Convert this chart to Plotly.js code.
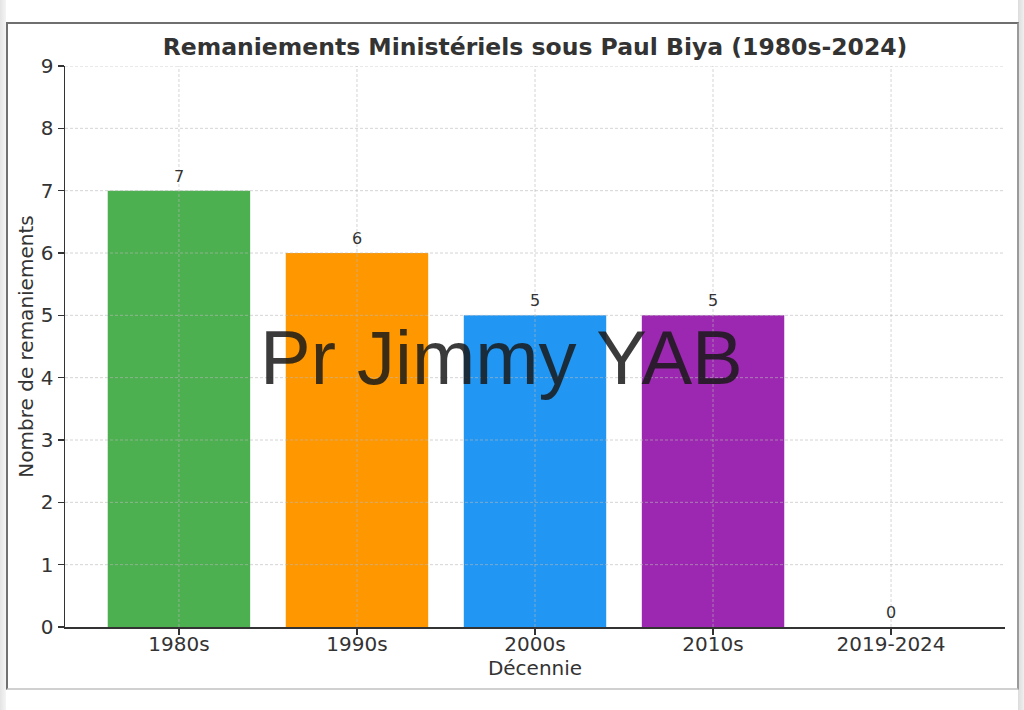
<!DOCTYPE html>
<html>
<head>
<meta charset="utf-8">
<script src="https://cdn.plot.ly/plotly-3.0.1.min.js"></script>
<style>
  html, body { margin: 0; padding: 0; width: 1024px; height: 710px; overflow: hidden; background: #ffffff; }
  #stripL { position: absolute; left: 0; top: 0; width: 6px; height: 710px; background: linear-gradient(to right, #e4e4e4, #f4f4f4); }
  #stripR { position: absolute; left: 1018px; top: 0; width: 6px; height: 710px; background: linear-gradient(to right, #dcdcdc, #efefef); }
  #frame { position: absolute; left: 6px; top: 22px; width: 1009px; height: 664px;
           border-top: 2px solid #6f6f6f; border-left: 2px solid #707070; border-right: 2px solid #9a9a9a; border-bottom: 2px solid #d0d0d0; background: #ffffff; }
  #chart { position: absolute; left: 0; top: 0; width: 1024px; height: 710px; }
</style>
</head>
<body>
<div id="stripL"></div>
<div id="stripR"></div>
<div id="frame"></div>
<div id="chart"></div>
<script>
// ---- data ----
var categories = ["1980s", "1990s", "2000s", "2010s", "2019-2024"];
var values = [7, 6, 5, 5, 0];
var barColors = ["#4CAF50", "#FF9800", "#2196F3", "#9C27B0", "#E91E63"];
var yTickValues = [0, 1, 2, 3, 4, 5, 6, 7, 8, 9];
var titleText = "Remaniements Ministériels sous Paul Biya (1980s-2024)";
var xTitleText = "Décennie";
var yTitleText = "Nombre de remaniements";
var watermarkText = "Pr Jimmy YAB";

var textColor = "#333333";
var gridColor = "rgba(185,185,185,0.6)";

var trace = {
  type: "bar",
  x: categories,
  y: values,
  width: 0.8,
  marker: { color: barColors, line: { width: 0 } },
  hoverinfo: "x+y"
};

// grid lines drawn above the bars (as in the reference)
var shapes = [];
yTickValues.forEach(function (v) {
  if (v === 0) return;
  shapes.push({ type: "line", layer: "above", xref: "paper", yref: "y", x0: 0, x1: 1, y0: v, y1: v,
                line: { color: gridColor, width: 1, dash: "3px,2px" } });
});
categories.forEach(function (c) {
  shapes.push({ type: "line", layer: "above", xref: "x", yref: "paper", x0: c, x1: c, y0: 0, y1: 1,
                line: { color: gridColor, width: 1, dash: "3px,2px" } });
});

// value labels above bars
var annotations = categories.map(function (c, i) {
  return { x: c, y: values[i], xref: "x", yref: "y", text: String(values[i]), showarrow: false,
           yanchor: "bottom", yshift: 3, font: { family: "DejaVu Sans", size: 16, color: textColor } };
});
// watermark (placed in paper coordinates of the plot area)
annotations.push({ x: (501 - 65) / (1005 - 65), y: (627 - 357) / (627 - 66), xref: "paper", yref: "paper",
                   text: watermarkText, showarrow: false,
                   font: { family: "Liberation Sans, Arial", size: 76, color: "rgba(25,25,25,0.85)" },
                   xanchor: "center", yanchor: "middle" });

var layout = {
  width: 1024,
  height: 710,
  paper_bgcolor: "rgba(0,0,0,0)",
  plot_bgcolor: "rgba(0,0,0,0)",
  margin: { l: 65, r: 19, t: 66, b: 83, pad: 0 },
  showlegend: false,
  title: {
    text: "<b>" + titleText + "</b>",
    x: 0.5, xref: "paper", xanchor: "center",
    y: 1 - 47 / 710, yref: "container", yanchor: "middle",
    font: { family: "DejaVu Sans", size: 23.5, color: textColor }
  },
  xaxis: {
    type: "category",
    range: [-0.64, 4.64],
    showgrid: false,
    showline: true, linecolor: "#333333", linewidth: 1.5,
    ticks: "outside", ticklen: 6, tickwidth: 1.2, tickcolor: "#333333",
    ticklabelstandoff: -8,
    tickfont: { family: "DejaVu Sans", size: 20, color: textColor },
    title: { text: xTitleText, font: { family: "DejaVu Sans", size: 20, color: textColor }, standoff: 6 },
    automargin: false,
    zeroline: false,
    fixedrange: true
  },
  yaxis: {
    range: [0, 9],
    tickvals: yTickValues,
    showgrid: false,
    zeroline: false,
    showline: true, linecolor: "#333333", linewidth: 1.5,
    ticks: "outside", ticklen: 6, tickwidth: 1.2, tickcolor: "#333333",
    tickfont: { family: "DejaVu Sans", size: 20, color: textColor },
    title: { text: yTitleText, font: { family: "DejaVu Sans", size: 20, color: textColor }, standoff: 2 },
    automargin: false,
    fixedrange: true
  },
  shapes: shapes,
  annotations: annotations,
  font: { family: "DejaVu Sans", color: textColor }
};

Plotly.newPlot("chart", [trace], layout, { displayModeBar: false, staticPlot: true });
</script>
</body>
</html>
